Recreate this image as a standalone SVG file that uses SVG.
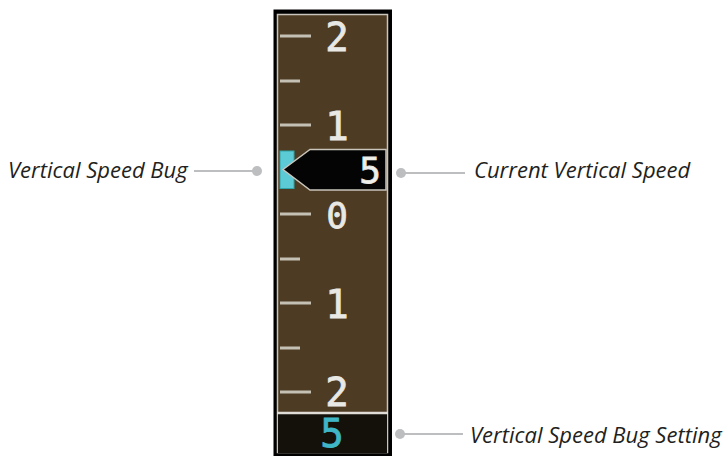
<svg xmlns="http://www.w3.org/2000/svg" width="725" height="456" viewBox="0 0 725 456">
<style>
.lbl{font-family:"Open Sans","Noto Sans",sans-serif;font-style:italic;font-weight:400;font-size:22px;fill:#231f20}
.d{font-family:"DejaVu Sans Mono","Liberation Mono",monospace;font-size:39px;fill:#e8e8e4;text-anchor:middle;stroke:#e8e8e4;stroke-width:.8}
.t{stroke:#c4c0b4;stroke-width:3;fill:none}
.l{stroke:#bcbec0;stroke-width:2;fill:none}
.o{fill:#bcbec0}
</style>
<g id="tape">
<rect x="273.500" y="9.500" width="118.500" height="446.500" fill="#000"/>
<rect x="277.500" y="14.500" width="110" height="438" fill="#4e3b24" stroke="#c9c5bc" stroke-width="1.500"/>
<rect x="278" y="414" width="109" height="39" fill="#14100a"/>
<path d="M277 413H388" stroke="#e0ddd6" stroke-width="2.500" fill="none"/>
<path class="t" d="M280 36H311M280 81H300M280 125H311M280 214H311M280 259H300M280 303H311M280 348H300M280 392H311"/>
<text class="d" x="337" y="51">2</text>
<text class="d" x="337" y="140">1</text>
<text class="d" x="337" y="228" style="font-size:36px">0</text>
<text class="d" x="337" y="318">1</text>
<text class="d" x="337" y="406">2</text>
<text class="d" x="332" y="447" style="fill:#3fb6c6;stroke:#3fb6c6">5</text>
</g>
<g id="bug"><rect x="280" y="151" width="14" height="37.500" fill="#5ccbd6" stroke="#2fa5a8"/></g>
<g id="pointer">
<path d="M283 169.500L310 149.500H386V190H310Z" fill="#040404" stroke="#c9c5bc" stroke-width="1.500"/>
<text class="d" x="370" y="183" style="fill:#efefeb;font-size:36px">5</text>
</g>
<g id="connectors">
<path class="l" d="M194 171H257M401 173H465M400 434H463"/>
<circle class="o" cx="257" cy="171" r="5"/>
<circle class="o" cx="401" cy="173" r="5"/>
<circle class="o" cx="400" cy="434" r="5"/>
</g>
<g id="label-bug"><text class="lbl" x="8" y="178">Vertical Speed Bug</text></g>
<g id="label-current"><text class="lbl" x="474" y="178">Current Vertical Speed</text></g>
<g id="label-setting"><text class="lbl" x="470" y="443">Vertical Speed Bug Setting</text></g>
</svg>
